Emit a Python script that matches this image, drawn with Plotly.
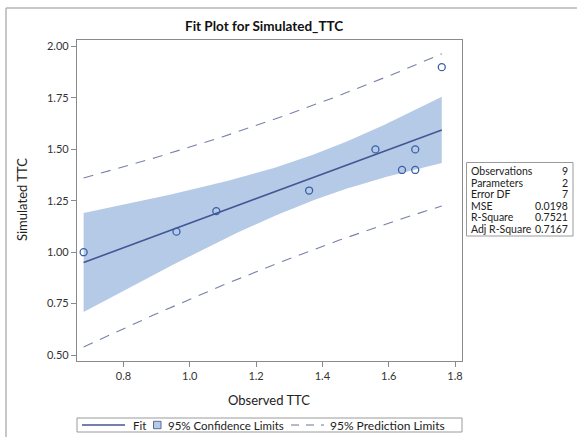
import numpy as np
import plotly.graph_objects as go

# Observed vs simulated TTC
observed = [0.68, 0.96, 1.08, 1.36, 1.56, 1.64, 1.68, 1.68, 1.76]
simulated = [1.00, 1.10, 1.20, 1.30, 1.50, 1.40, 1.50, 1.40, 1.90]

x_ticks = [0.8, 1.0, 1.2, 1.4, 1.6, 1.8]
y_ticks = [0.50, 0.75, 1.00, 1.25, 1.50, 1.75, 2.00]

T_975_DF7 = 2.364624  # two-sided 95% t quantile, 7 df

# --- simple linear regression -------------------------------------------
x = np.array(observed)
y = np.array(simulated)
n = len(x)
xm, ym = x.mean(), y.mean()
sxx = ((x - xm) ** 2).sum()
slope = ((x - xm) * (y - ym)).sum() / sxx
intercept = ym - slope * xm
resid = y - (intercept + slope * x)
sse = (resid ** 2).sum()
sst = ((y - ym) ** 2).sum()
dfe = n - 2
mse = sse / dfe
r2 = 1 - sse / sst
adj_r2 = 1 - (1 - r2) * (n - 1) / dfe

xg = np.linspace(x.min(), x.max(), 120)
fit = intercept + slope * xg
lev = 1.0 / n + (xg - xm) ** 2 / sxx
ci = T_975_DF7 * np.sqrt(mse * lev)
pi = T_975_DF7 * np.sqrt(mse * (1 + lev))

stats_rows = [
    ("Observations", f"{n}"),
    ("Parameters", "2"),
    ("Error DF", f"{dfe}"),
    ("MSE", f"{mse:.4f}"),
    ("R-Square", f"{r2:.4f}"),
    ("Adj R-Square", f"{adj_r2:.4f}"),
]

FIT_C = "#445694"
BAND_C = "#b5cae6"
PRED_C = "#7682a8"
MARK_C = "#3b5fa6"
AXIS_C = "#8a8a8a"
FONT = "Lato, 'Open Sans', sans-serif"

fig = go.Figure()
fig.add_trace(go.Scatter(x=xg, y=fit - ci, mode="lines", line=dict(width=0),
                         hoverinfo="skip", showlegend=False))
fig.add_trace(go.Scatter(x=xg, y=fit + ci, mode="lines", line=dict(width=0),
                         fill="tonexty", fillcolor=BAND_C, hoverinfo="skip",
                         showlegend=False))
fig.add_trace(go.Scatter(x=xg, y=fit, mode="lines",
                         line=dict(color=FIT_C, width=1.6), showlegend=False))
for sign in (-1, 1):
    fig.add_trace(go.Scatter(x=xg, y=fit + sign * pi, mode="lines",
                             line=dict(color=PRED_C, width=1.1, dash="10px,8px"),
                             showlegend=False))
fig.add_trace(go.Scatter(x=observed, y=simulated, mode="markers",
                         marker=dict(symbol="circle-open", size=7,
                                     color=MARK_C, line=dict(width=1.3)),
                         showlegend=False))

# plot area in pixels
L, R, T, B = 77, 462, 40, 361
W, H = R - L, B - T


def px(xp):
    return (xp - L) / W


def py(yp):
    return (B - yp) / H


shapes = []
annotations = []

# outer frame (top and left edges)
shapes.append(dict(type="line", xref="paper", yref="paper",
                   x0=px(6), x1=px(580), y0=py(8), y1=py(8),
                   line=dict(color="#b4b4b4", width=1.5)))
shapes.append(dict(type="line", xref="paper", yref="paper",
                   x0=px(6), x1=px(6), y0=py(8), y1=py(440),
                   line=dict(color="#b4b4b4", width=1.5)))

# statistics table
tb_l, tb_r, tb_t, tb_b = 466.5, 573, 162.5, 236
shapes.append(dict(type="rect", xref="paper", yref="paper",
                   x0=px(tb_l), x1=px(tb_r), y0=py(tb_b), y1=py(tb_t),
                   line=dict(color="#9a9a9a", width=1), fillcolor="white"))
for i, (lab, val) in enumerate(stats_rows):
    yy = 171 + i * 11.6
    annotations.append(dict(xref="paper", yref="paper", x=px(469), y=py(yy),
                            text=lab, showarrow=False, xanchor="left",
                            yanchor="middle", font=dict(size=10.5, color="#222")))
    annotations.append(dict(xref="paper", yref="paper", x=px(570), y=py(yy),
                            text=val, showarrow=False, xanchor="right",
                            yanchor="middle", font=dict(size=10.5, color="#222")))

# legend box
lg_t, lg_b = 418, 432
lg_y = (lg_t + lg_b) / 2
shapes.append(dict(type="rect", xref="paper", yref="paper",
                   x0=px(77), x1=px(462), y0=py(lg_b), y1=py(lg_t),
                   line=dict(color="#9a9a9a", width=1)))
shapes.append(dict(type="line", xref="paper", yref="paper",
                   x0=px(82), x1=px(125), y0=py(lg_y), y1=py(lg_y),
                   line=dict(color=FIT_C, width=1.6)))
annotations.append(dict(xref="paper", yref="paper", x=px(131), y=py(lg_y),
                        text="Fit", showarrow=False, xanchor="left",
                        yanchor="middle", font=dict(size=11.5, color="#222")))
shapes.append(dict(type="rect", xref="paper", yref="paper",
                   x0=px(153.5), x1=px(161), y0=py(lg_y + 3.7), y1=py(lg_y - 3.7),
                   line=dict(color="#5a6a95", width=1), fillcolor=BAND_C))
annotations.append(dict(xref="paper", yref="paper", x=px(166), y=py(lg_y),
                        text="95% Confidence Limits", showarrow=False,
                        xanchor="left", yanchor="middle",
                        font=dict(size=11.5, color="#222")))
for d0, d1 in ((291, 299), (306, 314), (321, 324)):
    shapes.append(dict(type="line", xref="paper", yref="paper",
                       x0=px(d0), x1=px(d1), y0=py(lg_y), y1=py(lg_y),
                       line=dict(color=PRED_C, width=1.1)))
annotations.append(dict(xref="paper", yref="paper", x=px(328), y=py(lg_y),
                        text="95% Prediction Limits", showarrow=False,
                        xanchor="left", yanchor="middle",
                        font=dict(size=12, color="#222")))

# titles
annotations.append(dict(xref="paper", yref="paper", x=px(264), y=py(26),
                        text="<b>Fit Plot for Simulated_TTC</b>", showarrow=False,
                        xanchor="center", yanchor="middle",
                        font=dict(size=13.5, color="#111")))
annotations.append(dict(xref="paper", yref="paper", x=px(269), y=py(400),
                        text="Observed TTC", showarrow=False,
                        xanchor="center", yanchor="middle",
                        font=dict(size=13, color="#222")))
annotations.append(dict(xref="paper", yref="paper", x=px(22), y=py(200),
                        text="Simulated TTC", showarrow=False, textangle=-90,
                        xanchor="center", yanchor="middle",
                        font=dict(size=13, color="#222")))

fig.update_layout(
    width=577, height=437,
    margin=dict(l=L, r=577 - R, t=T, b=437 - B, pad=0),
    paper_bgcolor="white", plot_bgcolor="white",
    font=dict(family=FONT, color="#222"),
    shapes=shapes, annotations=annotations,
    showlegend=False,
)
fig.update_xaxes(range=[0.660, 1.821], tickvals=x_ticks,
                 ticktext=[f"{v:.1f}" for v in x_ticks],
                 showgrid=False, zeroline=False, showline=True, mirror=True,
                 linecolor=AXIS_C, linewidth=1.2, ticks="outside", ticklen=5,
                 tickcolor=AXIS_C, tickfont=dict(size=11, color="#333"))
fig.update_yaxes(range=[0.471, 2.032], tickvals=y_ticks,
                 ticktext=[f"{v:.2f}" for v in y_ticks],
                 showgrid=False, zeroline=False, showline=True, mirror=True,
                 linecolor=AXIS_C, linewidth=1.2, ticks="outside", ticklen=5,
                 tickcolor=AXIS_C, tickfont=dict(size=11, color="#333"))

fig.write_html("out.html")
